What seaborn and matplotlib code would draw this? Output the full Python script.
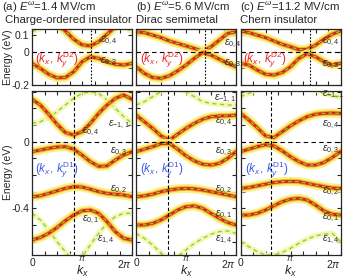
import numpy as np
import seaborn as sns
import matplotlib.pyplot as plt
from matplotlib.transforms import ScaledTranslation

sns.set_style('ticks')
plt.rcParams['font.family'] = ['Liberation Sans', 'DejaVu Sans']
plt.rcParams['mathtext.fontset'] = 'custom'
plt.rcParams['mathtext.rm'] = 'Liberation Sans'
plt.rcParams['mathtext.it'] = 'Liberation Sans:italic'

# sampling points along k_x (0 .. 2pi, step pi/6)
kx = np.arange(13) * np.pi / 6

# ---- panel (a) E=1.4 MV/cm ----
a_top_em11 = [0.12, 0.14, 0.17, 0.21, 0.25, 0.29, 0.31, 0.31, 0.29, 0.25, 0.20, 0.15, 0.12]
a_top_e04 = [0.25, 0.23, 0.20, 0.165, 0.125, 0.075, 0.042, 0.035, 0.06, 0.105, 0.15, 0.20, 0.25]
a_top_e03 = [-0.07, -0.10, -0.135, -0.157, -0.155, -0.12, -0.06, -0.03, -0.04, -0.06, -0.075, -0.08, -0.07]
a_bot_em11 = [0.11, 0.12, 0.145, 0.18, 0.22, 0.26, 0.29, 0.30, 0.29, 0.25, 0.20, 0.15, 0.11]
a_bot_e04 = [0.255, 0.22, 0.165, 0.105, 0.055, 0.04, 0.06, 0.11, 0.17, 0.22, 0.26, 0.28, 0.255]
a_bot_e03 = [-0.06, -0.05, -0.04, -0.032, -0.03, -0.045, -0.08, -0.12, -0.148, -0.145, -0.11, -0.08, -0.06]
a_bot_e02 = [-0.33, -0.325, -0.31, -0.295, -0.28, -0.27, -0.272, -0.285, -0.30, -0.31, -0.315, -0.32, -0.33]
a_bot_e01 = [-0.59, -0.575, -0.55, -0.515, -0.475, -0.44, -0.415, -0.41, -0.43, -0.48, -0.54, -0.58, -0.59]
a_bot_e14 = [-0.43, -0.47, -0.53, -0.60, -0.66, -0.72, -0.69, -0.62, -0.55, -0.49, -0.45, -0.43, -0.43]

# ---- panel (b) E=5.6 MV/cm ----
b_top_e04 = [0.12, 0.115, 0.10, 0.085, 0.065, 0.05, 0.035, 0.02, 0.003, 0.03, 0.07, 0.11, 0.12]
b_top_e03 = [-0.09, -0.13, -0.155, -0.16, -0.145, -0.115, -0.08, -0.04, -0.005, -0.02, -0.045, -0.07, -0.09]
b_bot_em11 = [0.22, 0.24, 0.27, 0.30, 0.32, 0.32, 0.30, 0.27, 0.24, 0.23, 0.225, 0.22, 0.22]
b_bot_e04 = [0.16, 0.12, 0.08, 0.035, 0.01, 0.045, 0.08, 0.11, 0.135, 0.15, 0.155, 0.155, 0.16]
b_bot_e03 = [-0.06, -0.045, -0.03, -0.012, -0.01, -0.045, -0.085, -0.115, -0.135, -0.14, -0.13, -0.10, -0.06]
b_bot_e02 = [-0.33, -0.325, -0.315, -0.30, -0.29, -0.283, -0.28, -0.283, -0.29, -0.30, -0.31, -0.32, -0.33]
b_bot_e01 = [-0.50, -0.50, -0.49, -0.47, -0.44, -0.41, -0.39, -0.385, -0.40, -0.43, -0.46, -0.485, -0.50]
b_bot_e14 = [-0.55, -0.58, -0.62, -0.67, -0.71, -0.69, -0.65, -0.61, -0.58, -0.555, -0.54, -0.535, -0.55]

# ---- panel (c) E=11.2 MV/cm ----
c_top_e04 = [0.125, 0.115, 0.10, 0.085, 0.065, 0.045, 0.03, 0.013, 0.015, 0.04, 0.075, 0.105, 0.125]
c_top_e03 = [-0.07, -0.08, -0.11, -0.135, -0.14, -0.125, -0.09, -0.04, -0.012, -0.03, -0.06, -0.08, -0.07]
c_bot_em11 = [0.27, 0.29, 0.31, 0.33, 0.35, 0.36, 0.36, 0.35, 0.33, 0.31, 0.29, 0.275, 0.27]
c_bot_e04 = [0.17, 0.13, 0.085, 0.035, 0.025, 0.06, 0.095, 0.125, 0.15, 0.165, 0.17, 0.172, 0.17]
c_bot_e03 = [-0.06, -0.045, -0.03, -0.018, -0.025, -0.055, -0.09, -0.12, -0.14, -0.14, -0.125, -0.095, -0.06]
c_bot_e02 = [-0.28, -0.275, -0.265, -0.255, -0.245, -0.24, -0.238, -0.24, -0.25, -0.26, -0.27, -0.278, -0.28]
c_bot_e01 = [-0.44, -0.44, -0.43, -0.41, -0.385, -0.36, -0.345, -0.34, -0.35, -0.38, -0.415, -0.435, -0.44]
c_bot_e14 = [-0.60, -0.63, -0.66, -0.68, -0.68, -0.665, -0.64, -0.61, -0.585, -0.565, -0.555, -0.55, -0.60]

# Dirac-point k_x (units of pi) for ky^D2 (top) and ky^D1 (bottom)
kd_top = [1.17, 1.37, 1.39]
kd_bot = [0.83, 0.63, 0.61]

titles = ['(a) $E^{\\omega}$=1.4 MV/cm', '(b) $E^{\\omega}$=5.6 MV/cm', '(c) $E^{\\omega}$=11.2 MV/cm']
phases = ['Charge-ordered insulator', 'Dirac semimetal', 'Chern insulator']
xtick_labels = ['0', '', '', '', '$\\pi$', '', '', '', '$2\\pi$']

panels = [
    dict(top_strong=[a_top_e04, a_top_e03], top_weak=[a_top_em11],
         bot_strong=[a_bot_e04, a_bot_e03, a_bot_e02, a_bot_e01], bot_weak=[a_bot_em11, a_bot_e14]),
    dict(top_strong=[b_top_e04, b_top_e03], top_weak=[],
         bot_strong=[b_bot_e04, b_bot_e03, b_bot_e02, b_bot_e01], bot_weak=[b_bot_em11, b_bot_e14]),
    dict(top_strong=[c_top_e04, c_top_e03], top_weak=[],
         bot_strong=[c_bot_e04, c_bot_e03, c_bot_e02, c_bot_e01], bot_weak=[c_bot_em11, c_bot_e14]),
]

# label positions (kx in units of pi, energy)
top_labels = [
    [(1.36, 0.065, '0,4'), (1.36, -0.062, '0,3'), (0.06, -0.045, None)],
    [(1.76, 0.05, '0,4'), (1.76, -0.07, '0,3'), (0.08, -0.045, None)],
    [(1.63, 0.06, '0,4'), (1.62, -0.08, '0,3'), (0.05, -0.045, None)],
]
bot_labels = [
    [(1.52, 0.10, '-1,1'), (1.0, 0.06, '0,4'), (1.56, -0.06, '0,3'), (1.56, -0.29, '0,2'),
     (1.0, -0.47, '0,1'), (1.30, -0.59, '1,4'), (0.06, -0.17, None)],
    [(1.56, 0.26, '-1,1'), (1.58, 0.12, '0,4'), (1.58, -0.06, '0,3'), (1.58, -0.29, '0,2'),
     (1.58, -0.44, '0,1'), (1.58, -0.59, '1,4'), (0.08, -0.17, None)],
    [(1.62, 0.28, '-1,1'), (1.64, 0.10, '0,4'), (1.64, -0.05, '0,3'), (1.62, -0.30, '0,2'),
     (1.62, -0.46, '0,1'), (1.62, -0.59, '1,4'), (0.09, -0.17, None)],
]


def strong_band(ax, y):
    sns.lineplot(x=kx, y=y, ax=ax, color='#f8f07a', lw=6.5, alpha=0.9, legend=False)
    sns.lineplot(x=kx, y=y, ax=ax, color='#f6b02c', lw=3.6, legend=False)
    sns.lineplot(x=kx, y=y, ax=ax, color='#e31a1a', lw=2.0, legend=False)
    sns.lineplot(x=kx, y=y, ax=ax, color='#6be324', lw=0.9, linestyle=(0, (3, 2.5)), legend=False)


def weak_band(ax, y):
    sns.lineplot(x=kx, y=y, ax=ax, color='#f7f3a8', lw=4, alpha=0.8, legend=False)
    sns.lineplot(x=kx, y=y, ax=ax, color='#72e02a', lw=1.0, linestyle=(0, (3, 2.5)), legend=False)


fig = plt.figure(figsize=(3.43, 2.79), dpi=100)
lefts = [32 / 343, 136 / 343, 240.5 / 343]
width = 100 / 343
shift_up = ScaledTranslation(0, 4 / 100, fig.dpi_scale_trans)

for i, p in enumerate(panels):
    ax_t = fig.add_axes([lefts[i], 1 - 85 / 279, width, 55.7 / 279])
    ax_b = fig.add_axes([lefts[i], 1 - 255 / 279, width, 164.3 / 279])

    for y in p['top_weak']:
        weak_band(ax_t, y)
    for y in p['top_strong']:
        strong_band(ax_t, y)
    for y in p['bot_weak']:
        weak_band(ax_b, y)
    for y in p['bot_strong']:
        strong_band(ax_b, y)

    ax_t.axvline(kd_top[i] * np.pi, color='k', lw=0.8, ls=(0, (1.5, 1.5)))
    ax_b.axvline(kd_bot[i] * np.pi, color='k', lw=0.8, ls=(0, (3, 2)))
    for ax in (ax_t, ax_b):
        ax.axhline(0, color='k', lw=0.8, ls=(0, (4, 3)))
        ax.set_xlim(0, 2 * np.pi)
        ax.set_xticks(np.arange(9) * np.pi / 4)
        ax.tick_params(direction='in', length=3, width=0.8, top=True, right=True,
                       labelsize=7.5, pad=2)
        for s in ax.spines.values():
            s.set_linewidth(0.9)
        ax.set_xlabel('')
        ax.set_ylabel('')

    ax_t.set_ylim(-0.2, 0.135)
    ax_t.set_yticks([-0.2, -0.1, 0, 0.1])
    ax_b.set_ylim(-0.68, 0.306)
    yb = np.round(np.arange(-6, 4) * 0.1, 1)
    ax_b.set_yticks(yb)
    ax_t.set_xticklabels([])
    ax_b.set_xticklabels(xtick_labels)
    tl = ax_b.get_xticklabels()
    tl[4].set_fontsize(6.5)
    tl[4].set_transform(tl[4].get_transform() + shift_up)
    tl[-1].set_ha('right')
    if i == 0:
        ax_t.set_yticklabels(['-0.2', '', '0', '0.1'])
        ax_b.set_yticklabels([f'{v:g}' if v in (0.0, -0.4) else '' for v in yb])
    else:
        ax_t.set_yticklabels([])
        ax_b.set_yticklabels([])

    xc = lefts[i] + width / 2
    fig.text(xc, 1 - 271 / 279, '$k_x$', fontsize=9, ha='center', va='center')

    for (xk, yv, sub) in top_labels[i]:
        if sub is None:
            ax_t.text(xk * np.pi, yv, '$(k_x,\\, k_y^{\\rm D2})$', color='#f0242a',
                      fontsize=8.5, va='center', ha='left')
        else:
            ax_t.text(xk * np.pi, yv, '$\\varepsilon_{' + sub + '}$', fontsize=7.5,
                      va='center', ha='left', color='#333333')
    for (xk, yv, sub) in bot_labels[i]:
        if sub is None:
            ax_b.text(xk * np.pi, yv, '$(k_x,\\, k_y^{\\rm D1})$', color='#3a5ce8',
                      fontsize=8.5, va='center', ha='left')
        else:
            ax_b.text(xk * np.pi, yv, '$\\varepsilon_{' + sub + '}$', fontsize=7.5,
                      va='center', ha='left', color='#333333')

    fig.text(lefts[i] + (0.0 if i else -0.087), 1 - 7 / 279, titles[i], fontsize=8.2,
             va='center', ha='left')
    fig.text(lefts[i] + (0.0 if i else -0.078), 1 - 20 / 279, phases[i], fontsize=8.2,
             va='center', ha='left')

fig.text(8 / 343, 1 - 57 / 279, 'Energy (eV)', rotation=90, fontsize=7.5, va='center', ha='center')
fig.text(8 / 343, 1 - 172 / 279, 'Energy (eV)', rotation=90, fontsize=7.5, va='center', ha='center')

fig.savefig('out.png', dpi=100)
